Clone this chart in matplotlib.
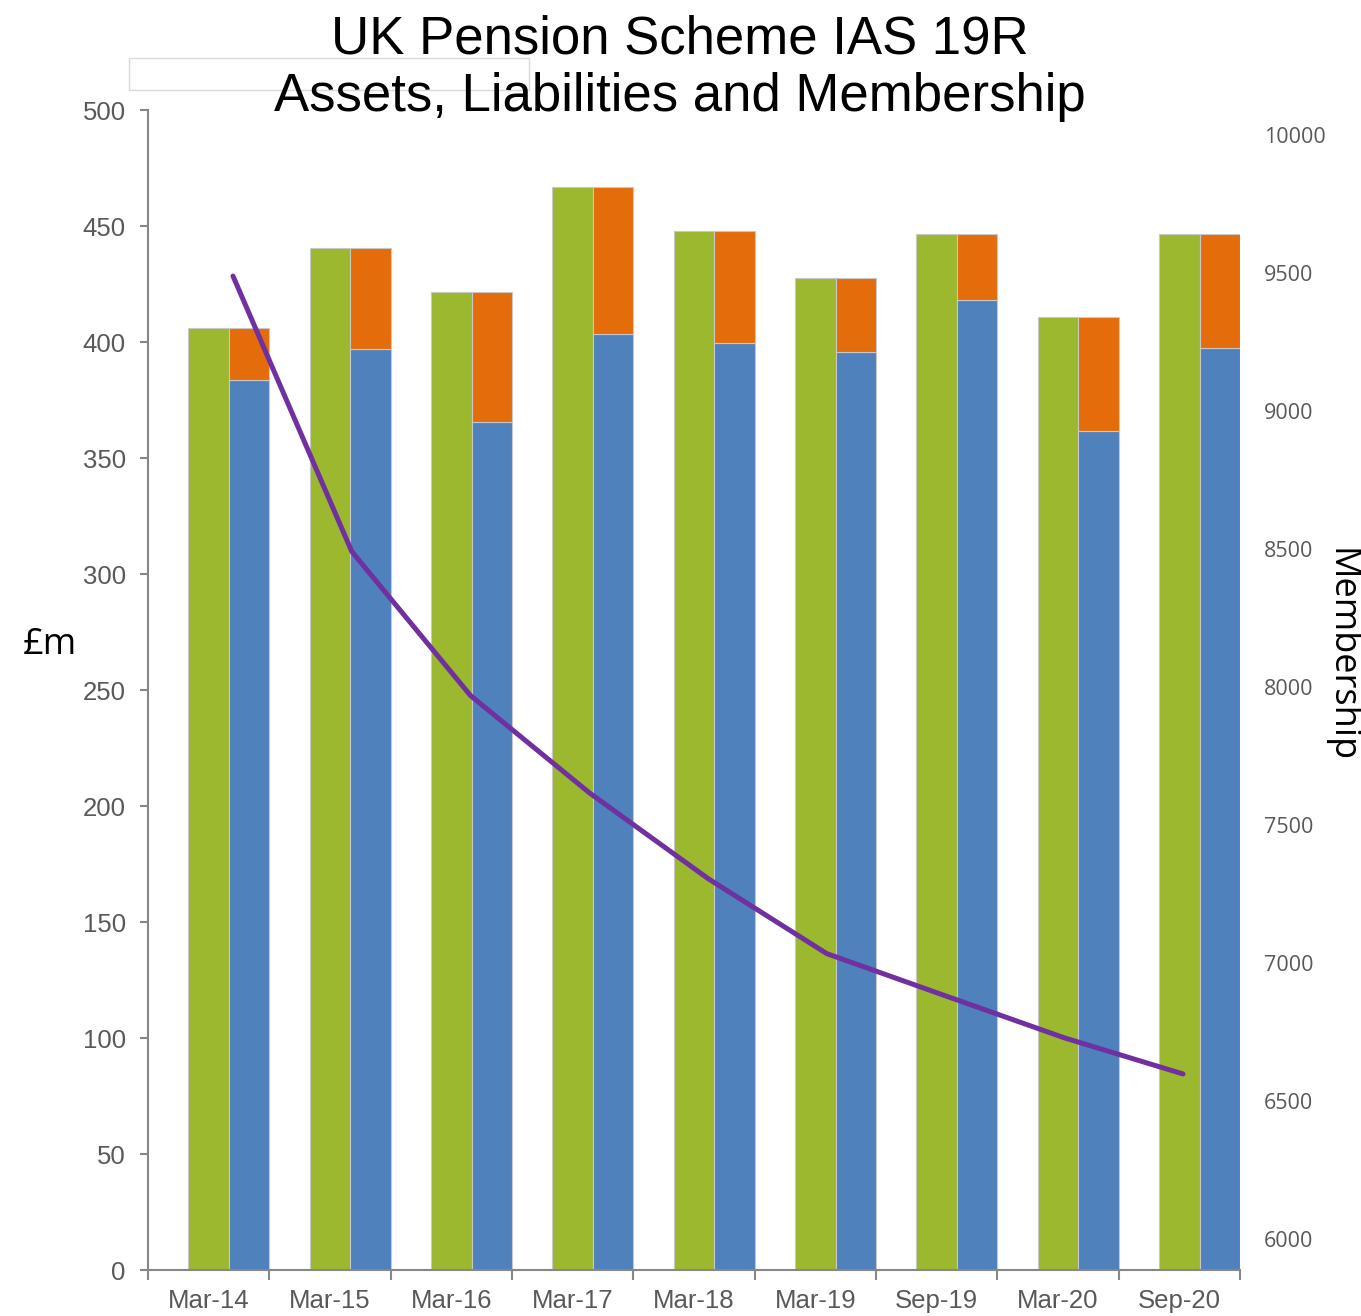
import matplotlib
matplotlib.use("Agg")
import matplotlib.pyplot as plt
from matplotlib.patches import Rectangle

categories = ["Mar-14", "Mar-15", "Mar-16", "Mar-17", "Mar-18", "Mar-19", "Sep-19", "Mar-20", "Sep-20"]
liabilities = [406, 440.5, 421.6, 466.8, 447.8, 427.6, 446.6, 410.8, 446.6]
assets = [383.6, 397, 365.5, 403.4, 399.6, 395.7, 418.1, 361.6, 397.4]
membership = [9489, 8491, 7969, 7617, 7306, 7034, 6881, 6729, 6598]
left_ticks = [0, 50, 100, 150, 200, 250, 300, 350, 400, 450, 500]
right_ticks = [6000, 6500, 7000, 7500, 8000, 8500, 9000, 9500, 10000]

GREEN = "#9BB82F"
BLUE = "#4F81BD"
ORANGE = "#E46C0A"
PURPLE = "#7030A0"
GRAY = "#878787"
TXT = "#595959"

fig = plt.figure(figsize=(13.61, 13.16), dpi=100)
rect = [148/1361, (1316-1270)/1316, 1092/1361, 1160/1316]
ax = fig.add_axes(rect)

n = len(categories)
xs = list(range(n))
deficit = [l - a for l, a in zip(liabilities, assets)]
ax.bar(xs, liabilities, width=1/3, color=GREEN, edgecolor="#C8C8C8", linewidth=0.8, zorder=2)
xb = [x + 1/3 for x in xs]
ax.bar(xb, assets, width=1/3, color=BLUE, edgecolor="#C8C8C8", linewidth=0.8, zorder=2)
ax.bar(xb, deficit, bottom=assets, width=1/3, color=ORANGE, edgecolor="#C8C8C8", linewidth=0.8, zorder=2)

ax.set_xlim(-0.5, n - 0.5)
ax.set_ylim(0, 500)
ax.set_yticks(left_ticks)
ax.set_yticklabels([str(t) for t in left_ticks], fontsize=18.5, color=TXT, family="Liberation Sans")
ax.tick_params(axis="y", length=6, width=1.5, color=GRAY, pad=10, direction="out")
ax.set_xticks([x - 0.5 for x in range(n + 1)])
ax.set_xticklabels([])
ax.set_xticks(xs, minor=True)
ax.set_xticklabels(categories, minor=True, fontsize=18.5, color=TXT, family="Liberation Sans")
ax.tick_params(axis="x", which="major", length=7, width=1.5, color=GRAY, direction="out")
ax.tick_params(axis="x", which="minor", length=0, pad=14)
for s in ["top", "right"]:
    ax.spines[s].set_visible(False)
for s in ["left", "bottom"]:
    ax.spines[s].set_color(GRAY)
    ax.spines[s].set_linewidth(1.5)
ax.patch.set_visible(False)

ax2 = fig.add_axes(rect)
ax2.patch.set_visible(False)
for s in ax2.spines.values():
    s.set_visible(False)
ax2.plot(xs, membership, color=PURPLE, linewidth=3.6, solid_capstyle="round", zorder=3)
ax2.set_xlim(-85/118.75, 8 + 57/118.75)
ax2.set_ylim(6000 - 31/0.276, 10000 + 25/0.276)
ax2.set_xticks([])
ax2.yaxis.tick_right()
ax2.set_yticks(right_ticks)
ax2.set_yticklabels([str(t) for t in right_ticks], fontsize=15.5, color=TXT, family="Open Sans")
ax2.tick_params(axis="y", length=0, pad=17)

fig.text(50/1361, 1 - 645/1316, "£m", fontsize=26, family="Open Sans", ha="center", va="center")
fig.text(1340/1361, 1 - 655/1316, "Membership", fontsize=26, family="Open Sans", rotation=270,
         ha="center", va="center")

fig.patches.append(Rectangle((129/1361, 1 - 90/1316), 400/1361, 32/1316, transform=fig.transFigure,
                             facecolor="white", edgecolor="#D9D9D9", linewidth=1, zorder=0))
fig.text(680/1361, 1 - 68/1316, "UK Pension Scheme IAS 19R\nAssets, Liabilities and Membership",
         fontsize=38, family="Liberation Sans", ha="center", va="center", linespacing=1.2)

fig.savefig("out.png", dpi=100)
